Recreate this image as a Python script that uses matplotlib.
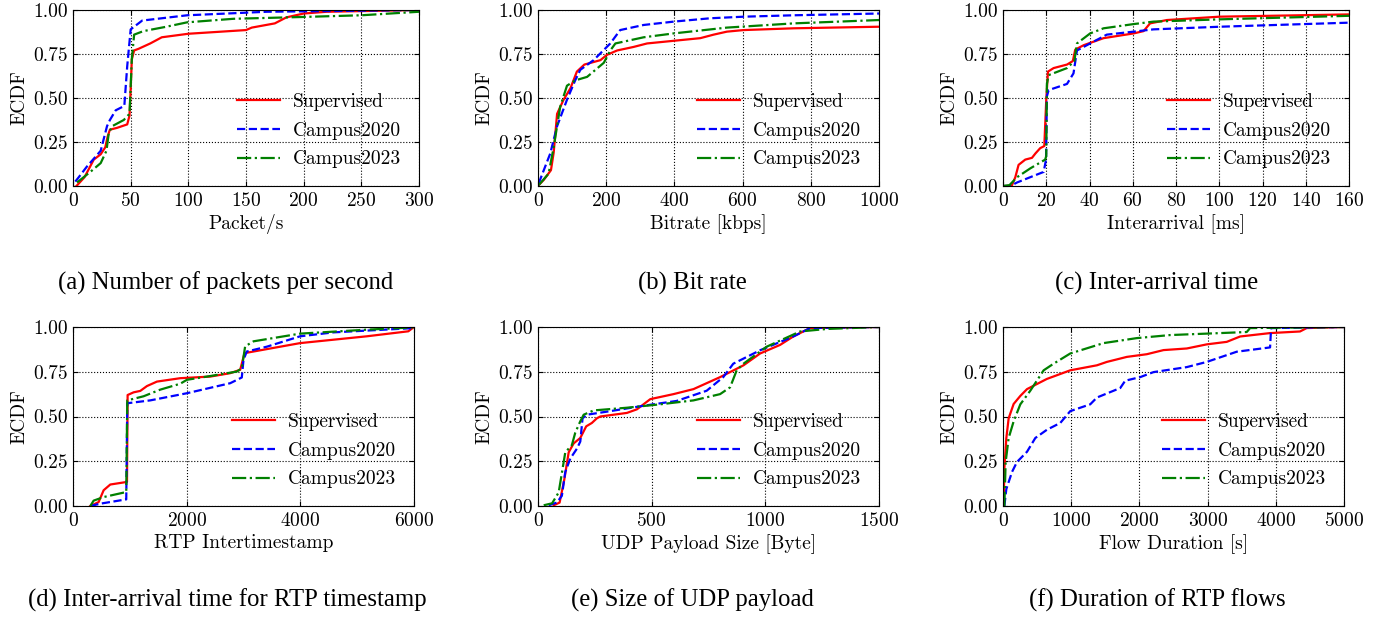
import matplotlib
matplotlib.use("Agg")
import matplotlib.pyplot as plt
from matplotlib.ticker import FormatStrFormatter

plt.rcParams['font.family'] = ['cmr10', 'DejaVu Serif']
plt.rcParams['axes.formatter.use_mathtext'] = True
plt.rcParams['font.size'] = 14

labels = ["Supervised", "Campus2020", "Campus2023"]
colors = ["red", "blue", "green"]
styles = ["-", "--", "-."]

# (a) Packet/s
a_sup_x = [3, 10, 14, 18, 24, 28, 30, 32, 38, 47, 49, 50, 51, 53, 57, 67, 77, 100, 150, 155, 175, 185, 200, 220, 300]
a_sup_y = [0, 0.05, 0.10, 0.15, 0.18, 0.22, 0.28, 0.32, 0.33, 0.35, 0.40, 0.55, 0.72, 0.77, 0.78, 0.81, 0.845, 0.865, 0.886, 0.90, 0.924, 0.958, 0.98, 0.99, 1.0]
a_c20_x = [2, 5, 12, 24, 29.5, 32, 37, 44.5, 47, 50, 60, 99, 168, 300]
a_c20_y = [0.025, 0.05, 0.11, 0.20, 0.34, 0.375, 0.43, 0.455, 0.68, 0.89, 0.94, 0.97, 0.99, 1.0]
a_c23_x = [3.5, 15, 24, 29, 31, 34, 44, 49, 51, 53, 61, 81, 99, 139, 197, 250, 300]
a_c23_y = [0.02, 0.08, 0.13, 0.20, 0.30, 0.34, 0.375, 0.41, 0.72, 0.86, 0.88, 0.905, 0.93, 0.95, 0.96, 0.97, 0.99]

# (b) Bitrate
b_sup_x = [2, 17, 38, 46, 56, 75, 95, 114, 136, 183, 202, 232, 280, 320, 398, 476, 515, 554, 603, 750, 1000]
b_sup_y = [0.005, 0.035, 0.09, 0.19, 0.41, 0.49, 0.555, 0.65, 0.69, 0.715, 0.745, 0.77, 0.79, 0.81, 0.825, 0.84, 0.86, 0.877, 0.886, 0.896, 0.905]
b_c20_x = [2, 17, 36, 56, 85, 109, 124, 163, 212, 241, 310, 398, 505, 603, 750, 1000]
b_c20_y = [0.015, 0.09, 0.185, 0.34, 0.49, 0.60, 0.66, 0.715, 0.81, 0.886, 0.915, 0.934, 0.953, 0.962, 0.97, 0.98]
b_c23_x = [2, 31, 46, 65, 85, 109, 144, 193, 212, 227, 310, 398, 554, 750, 1000]
b_c23_y = [0.005, 0.07, 0.22, 0.45, 0.57, 0.60, 0.62, 0.70, 0.77, 0.81, 0.845, 0.867, 0.90, 0.924, 0.943]

# (c) Interarrival
c_sup_x = [0, 4, 5.7, 7.2, 10.3, 13.4, 15, 17.2, 19.1, 20, 20.8, 23.4, 29.6, 32.3, 33.4, 37.3, 46.5, 60.4, 65, 68, 75.8, 100, 160]
c_sup_y = [0, 0, 0.05, 0.12, 0.15, 0.16, 0.185, 0.215, 0.227, 0.49, 0.65, 0.67, 0.69, 0.71, 0.775, 0.80, 0.84, 0.867, 0.88, 0.924, 0.943, 0.962, 0.975]
c_c20_x = [0, 3.4, 6.5, 12.6, 18.8, 19.9, 20.3, 21.1, 29.6, 32.6, 34.2, 40.3, 48, 60.4, 69.6, 100.4, 160]
c_c20_y = [0, 0, 0.02, 0.05, 0.08, 0.15, 0.51, 0.545, 0.58, 0.64, 0.77, 0.81, 0.86, 0.877, 0.89, 0.905, 0.928]
c_c23_x = [0, 3, 6.5, 12.6, 19.5, 20, 20.3, 21.1, 29.6, 33, 34.2, 40.3, 46.5, 60.4, 69.6, 100.4, 160]
c_c23_y = [0, 0.005, 0.05, 0.10, 0.15, 0.17, 0.58, 0.63, 0.67, 0.71, 0.81, 0.867, 0.896, 0.92, 0.934, 0.947, 0.967]

# (d) RTP Intertimestamp
d_sup_x = [305, 451, 539, 656, 920, 950, 961, 1066, 1184, 1301, 1477, 1887, 2414, 2766, 2942, 3018, 3176, 3996, 5168, 5900, 6000]
d_sup_y = [0, 0.022, 0.088, 0.12, 0.133, 0.135, 0.62, 0.635, 0.643, 0.67, 0.695, 0.714, 0.723, 0.742, 0.761, 0.854, 0.863, 0.91, 0.948, 0.976, 1.0]
d_c20_x = [305, 480, 937, 955, 1359, 2004, 2766, 2970, 3000, 3058, 3410, 3996, 4582, 6000]
d_c20_y = [0, 0.013, 0.037, 0.574, 0.59, 0.63, 0.686, 0.718, 0.817, 0.863, 0.89, 0.948, 0.97, 0.994]
d_c23_x = [305, 363, 539, 937, 955, 1242, 1535, 1887, 2004, 2356, 2883, 2970, 3029, 3176, 3996, 5168, 6000]
d_c23_y = [0, 0.03, 0.05, 0.078, 0.59, 0.613, 0.65, 0.683, 0.705, 0.723, 0.751, 0.77, 0.892, 0.92, 0.963, 0.985, 0.998]

# (e) UDP Payload Size
e_sup_x = [69, 95, 116, 135, 157, 186, 212, 237, 259, 274, 391, 435, 494, 596, 684, 801, 904, 977, 1065, 1123, 1197, 1500]
e_sup_y = [0.004, 0.019, 0.15, 0.30, 0.35, 0.38, 0.445, 0.464, 0.49, 0.50, 0.52, 0.54, 0.597, 0.625, 0.653, 0.72, 0.786, 0.852, 0.90, 0.947, 0.994, 1.0]
e_c20_x = [47, 83, 105, 120, 142, 171, 186, 196, 215, 318, 464, 610, 742, 815, 859, 977, 1123, 1197, 1500]
e_c20_y = [0.004, 0.019, 0.057, 0.19, 0.265, 0.32, 0.36, 0.49, 0.51, 0.53, 0.56, 0.587, 0.644, 0.72, 0.795, 0.87, 0.947, 0.994, 1.0]
e_c23_x = [25, 62, 91, 120, 149, 164, 186, 201, 245, 391, 537, 684, 801, 845, 874, 904, 1006, 1153, 1270, 1500]
e_c23_y = [0.004, 0.015, 0.076, 0.30, 0.34, 0.41, 0.473, 0.51, 0.534, 0.549, 0.568, 0.59, 0.625, 0.663, 0.758, 0.795, 0.89, 0.975, 0.989, 1.0]

# (f) Flow Duration
f_sup_x = [10, 20, 49, 83, 156, 254, 352, 449, 644, 986, 1377, 1523, 1816, 2109, 2354, 2695, 2988, 3281, 3477, 3916, 4355, 4453, 5000]
f_sup_y = [0, 0.21, 0.38, 0.49, 0.57, 0.615, 0.653, 0.672, 0.71, 0.758, 0.786, 0.805, 0.833, 0.848, 0.871, 0.88, 0.903, 0.917, 0.947, 0.966, 0.975, 0.994, 1.0]
f_c20_x = [20, 49, 132, 205, 352, 474, 644, 840, 986, 1279, 1377, 1719, 1792, 2012, 2207, 2695, 2988, 3428, 3916, 3931, 5000]
f_c20_y = [0, 0.095, 0.19, 0.246, 0.303, 0.38, 0.426, 0.464, 0.53, 0.568, 0.606, 0.659, 0.70, 0.72, 0.748, 0.776, 0.805, 0.862, 0.886, 0.994, 1.0]
f_c23_x = [20, 39, 83, 156, 254, 400, 596, 742, 986, 1474, 1963, 2451, 3184, 3574, 3623, 5000]
f_c23_y = [0, 0.246, 0.38, 0.473, 0.568, 0.644, 0.758, 0.795, 0.852, 0.91, 0.938, 0.955, 0.966, 0.972, 0.994, 1.0]

xlabels = ["Packet/s", "Bitrate [kbps]", "Interarrival [ms]",
           "RTP Intertimestamp", "UDP Payload Size [Byte]", "Flow Duration [s]"]
captions = ["(a) Number of packets per second", "(b) Bit rate", "(c) Inter-arrival time",
            "(d) Inter-arrival time for RTP timestamp", "(e) Size of UDP payload",
            "(f) Duration of RTP flows"]
xlims = [300, 1000, 160, 6000, 1500, 5000]
xticks = [[0, 50, 100, 150, 200, 250, 300],
          [0, 200, 400, 600, 800, 1000],
          [0, 20, 40, 60, 80, 100, 120, 140, 160],
          [0, 2000, 4000, 6000],
          [0, 500, 1000, 1500],
          [0, 1000, 2000, 3000, 4000, 5000]]
yticks = [0, 0.25, 0.5, 0.75, 1.0]

panels = [
    [(a_sup_x, a_sup_y), (a_c20_x, a_c20_y), (a_c23_x, a_c23_y)],
    [(b_sup_x, b_sup_y), (b_c20_x, b_c20_y), (b_c23_x, b_c23_y)],
    [(c_sup_x, c_sup_y), (c_c20_x, c_c20_y), (c_c23_x, c_c23_y)],
    [(d_sup_x, d_sup_y), (d_c20_x, d_c20_y), (d_c23_x, d_c23_y)],
    [(e_sup_x, e_sup_y), (e_c20_x, e_c20_y), (e_c23_x, e_c23_y)],
    [(f_sup_x, f_sup_y), (f_c20_x, f_c20_y), (f_c23_x, f_c23_y)],
]

W, H = 1384, 621
fig = plt.figure(figsize=(W / 100, H / 100), dpi=100)

# pixel boxes: left, right, top, bottom
boxes = [(73, 419, 10, 186), (538, 879, 10, 186), (1003, 1349, 10, 186),
         (73, 414, 327, 506), (538, 879, 327, 506), (1003, 1344, 327, 506)]
cap_pos = [(226, 283), (692, 283), (1157, 283), (227, 600), (692, 600), (1157, 600)]

for i in range(6):
    l, r, t, b = boxes[i]
    ax = fig.add_axes([l / W, 1 - b / H, (r - l) / W, (b - t) / H])
    for (xs, ys), lab, c, s in zip(panels[i], labels, colors, styles):
        ax.plot(xs, ys, color=c, linestyle=s, linewidth=1.6, label=lab)
    ax.set_xlim(0, xlims[i])
    ax.set_ylim(0, 1)
    ax.set_xticks(xticks[i])
    ax.set_yticks(yticks)
    ax.yaxis.set_major_formatter(FormatStrFormatter('%.2f'))
    ax.grid(True, linestyle=':', color='black', linewidth=0.8)
    ax.tick_params(direction='in', top=True, right=True, length=3.5, labelsize=14, pad=4)
    ax.set_xlabel(xlabels[i], fontsize=14, labelpad=3)
    ax.set_ylabel("ECDF", fontsize=14, labelpad=3)
    ax.legend(loc='lower right', frameon=False, fontsize=14, handlelength=2.2,
              handletextpad=0.7, labelspacing=0.55)
    fig.text(cap_pos[i][0] / W, 1 - cap_pos[i][1] / H, captions[i],
             ha='center', va='center', fontsize=17.8, family='Liberation Serif')

fig.savefig("out.png", dpi=100)
